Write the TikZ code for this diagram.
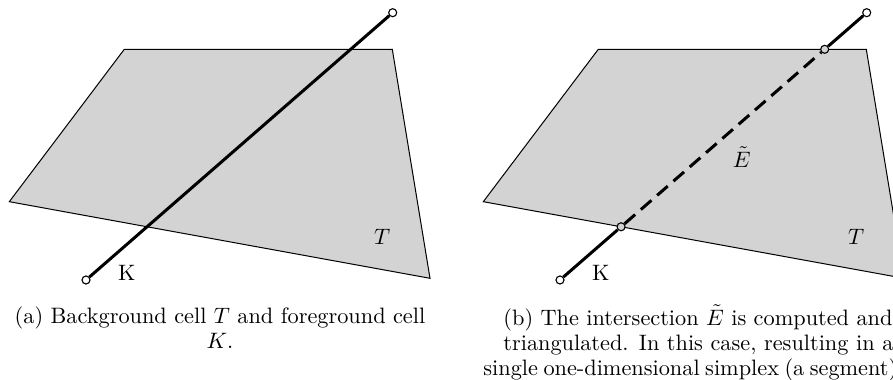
\documentclass[tikz,border=0pt]{standalone}
\definecolor{cellgray}{RGB}{211,211,211}
\begin{document}
\begin{tikzpicture}[x=0.4485pt,y=-0.4485pt,
  cell/.style={fill=cellgray,draw=black,line width=0.45pt,line join=miter},
  seg/.style={line width=1.35pt},
  dseg/.style={line width=1.35pt,dash pattern=on 6.3pt off 3.4pt},
  vert/.style={circle,draw,line width=0.5pt,inner sep=0pt,minimum size=3.6pt,fill=white},
  ivert/.style={vert,fill=cellgray},
  lab/.style={inner sep=0pt,font=\fontsize{10}{11}\selectfont},
  captext/.style={inner sep=0pt,font=\fontsize{10}{11.2}\selectfont}]
\useasboundingbox (0,0) rectangle (893,380);
% panel (a)
\coordinate (a1) at (124.3,49.3);
\coordinate (a2) at (392.3,49.3);
\coordinate (a3) at (430,278.3);
\coordinate (a4) at (9.3,201.7);
\draw[cell] (a1) -- (a2) -- (a3) -- (a4) -- cycle;
\node[vert] (ka) at (86,280) {};
\node[vert] (kb) at (392.7,12.7) {};
\draw[seg] (ka) -- (kb);
\node[lab] (Ka) at (126.7,272.5) {K};
\node[lab] (Ta) at (382.3,236.5) {$T$};
\node[captext,align=center,anchor=north] (capa) at (220,306) {(a) Background cell $T$ and foreground cell\\ $K$.};
% panel (b)
\coordinate (b1) at (598.3,49.3);
\coordinate (b2) at (866.3,49.3);
\coordinate (b3) at (904,278.3);
\coordinate (b4) at (483.3,201.7);
\draw[cell] (b1) -- (b2) -- (b3) -- (b4) -- cycle;
\node[vert] (kc) at (560,280) {};
\node[ivert] (p1) at (621.1,226.8) {};
\node[ivert] (p2) at (824.7,49.3) {};
\node[vert] (kd) at (866.7,12.7) {};
\draw[seg] (kc) -- (p1);
\draw[dseg] (p1) -- (p2);
\draw[seg] (p2) -- (kd);
\node[lab] (Kb) at (600.7,272.5) {K};
\node[lab] (Tb) at (856.3,236.5) {$T$};
\node[lab] (Eb) at (741.7,157) {$\tilde{E}$};
\node[captext,align=left,anchor=north west] (capb) at (483,304.5) {\hspace*{8.97pt}\makebox[174.5pt][s]{(b) The intersection $\tilde{E}$ is computed and}\\
\hspace*{8.97pt}\makebox[174.9pt][s]{triangulated. In this case, resulting in a}\\
\makebox[185.6pt][s]{single one-dimensional simplex (a segment)}.};
\end{tikzpicture}
\end{document}
